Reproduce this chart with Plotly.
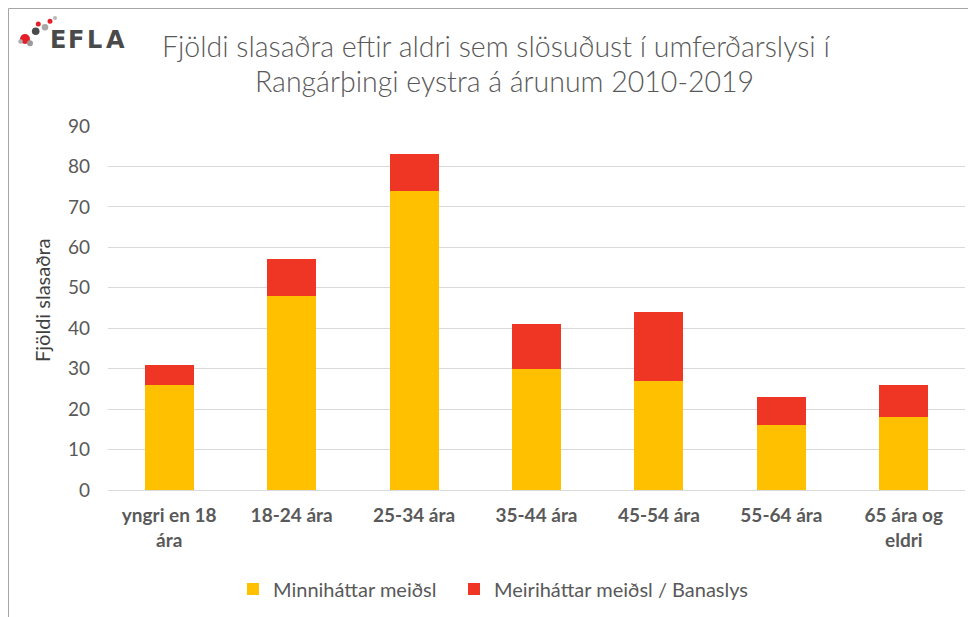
import plotly.graph_objects as go

categories = ["yngri en 18<br>ára", "18-24 ára", "25-34 ára", "35-44 ára",
              "45-54 ára", "55-64 ára", "65 ára og<br>eldri"]
minor = [26, 48, 74, 30, 27, 16, 18]
major = [5, 9, 9, 11, 17, 7, 8]
series_names = ["Minniháttar meiðsl", "Meiriháttar meiðsl / Banaslys"]
y_ticks = [0, 10, 20, 30, 40, 50, 60, 70, 80, 90]
title_lines = ["Fjöldi slasaðra eftir aldri sem slösuðust í umferðarslysi í",
               "Rangárþingi eystra á árunum 2010-2019"]
y_title = "Fjöldi slasaðra"
logo_letters = ["E", "F", "L", "A"]

# page offset (browser body margin)
OFF = 8
W, H = 976 - OFF, 617 - OFF
# plot area in page pixels
PL, PR, PT, PB = 108, 965, 126, 490
L, R, T, B = PL - OFF, PR - OFF, PT - OFF, PB - OFF

def px_x(x):
    return (x - OFF - L) / (R - L)

def px_y(y):
    return (B - (y - OFF)) / (B - T)

FONT = "Lato"
GRAY = "#595959"

fig = go.Figure()
fig.add_trace(go.Bar(x=categories, y=minor, name=series_names[0],
                     legend="legend",
                     marker=dict(color="#FFC000", line=dict(width=0))))
fig.add_trace(go.Bar(x=categories, y=major, name=series_names[1],
                     legend="legend2",
                     marker=dict(color="#EF3524", line=dict(width=0))))

leg_common = dict(orientation="h", xanchor="left", yanchor="middle",
                  font=dict(size=20, color=GRAY, family=FONT),
                  bgcolor="rgba(0,0,0,0)")
fig.update_layout(
    width=W, height=H,
    barmode="stack", bargap=0.6,
    plot_bgcolor="white", paper_bgcolor="white",
    margin=dict(l=L, r=W - R, t=T, b=H - B, autoexpand=False),
    font=dict(family=FONT, color=GRAY, size=16),
    showlegend=True,
    legend=dict(x=px_x(233), y=px_y(589), **leg_common),
    legend2=dict(x=px_x(454), y=px_y(589), **leg_common),
)
fig.update_yaxes(range=[0, 90], tickvals=y_ticks, showgrid=True,
                 gridcolor="#D9D9D9", gridwidth=1, zeroline=True,
                 zerolinecolor="#D9D9D9", zerolinewidth=1,
                 showline=False, ticks="", ticklabelstandoff=17,
                 tickfont=dict(size=19, color=GRAY, family=FONT))
fig.update_xaxes(showgrid=False, showline=False, ticks="",
                 ticklabelstandoff=12,
                 tickfont=dict(size=19, color=GRAY, family=FONT, weight="bold"))

fig.add_annotation(text=title_lines[0], xref="paper", yref="paper",
                   x=px_x(496), y=px_y(46), xanchor="center", yanchor="middle",
                   showarrow=False,
                   font=dict(size=28.5, color=GRAY, family=FONT, weight=300))
fig.add_annotation(text=title_lines[1], xref="paper", yref="paper",
                   x=px_x(504), y=px_y(81), xanchor="center", yanchor="middle",
                   showarrow=False,
                   font=dict(size=28.5, color=GRAY, family=FONT, weight=300))
fig.add_annotation(text=y_title, xref="paper", yref="paper",
                   x=px_x(42), y=px_y(300), xanchor="center", yanchor="middle",
                   textangle=-90, showarrow=False,
                   font=dict(size=20, color="#404040", family=FONT))

# logo
letter_x = [57.5, 75.5, 94, 115]
for ch, lx in zip(logo_letters, letter_x):
    fig.add_annotation(text="<b>" + ch + "</b>", xref="paper", yref="paper",
                       x=px_x(lx), y=px_y(40), xanchor="center", yanchor="middle",
                       showarrow=False,
                       font=dict(size=24, color="#4A4A4A", family="DejaVu Sans"))
dots = [(25, 39, 5, "#E3202A"), (35.7, 31.3, 3.8, "#4A4A4A"),
        (20.5, 41.5, 2.3, "#B0B0B0"), (30, 43.3, 3, "#9A9A9A"),
        (38.3, 24, 2.5, "#E3202A"), (50, 21.3, 2.5, "#E3202A"),
        (45, 27.3, 3.3, "#A8A8A8"), (55, 18, 2, "#B8B8B8")]
for cx, cy, r, c in dots:
    fig.add_shape(type="circle", xref="paper", yref="paper",
                  x0=px_x(cx - r), x1=px_x(cx + r),
                  y0=px_y(cy + r), y1=px_y(cy - r),
                  fillcolor=c, line=dict(width=0))

# chart border (top and left visible)
fig.add_shape(type="line", xref="paper", yref="paper",
              x0=px_x(8.5), x1=px_x(990), y0=px_y(8.5), y1=px_y(8.5),
              line=dict(color="#A6A6A6", width=1))
fig.add_shape(type="line", xref="paper", yref="paper",
              x0=px_x(8.5), x1=px_x(8.5), y0=px_y(8.5), y1=px_y(630),
              line=dict(color="#A6A6A6", width=1))

fig.write_html("out.html")
